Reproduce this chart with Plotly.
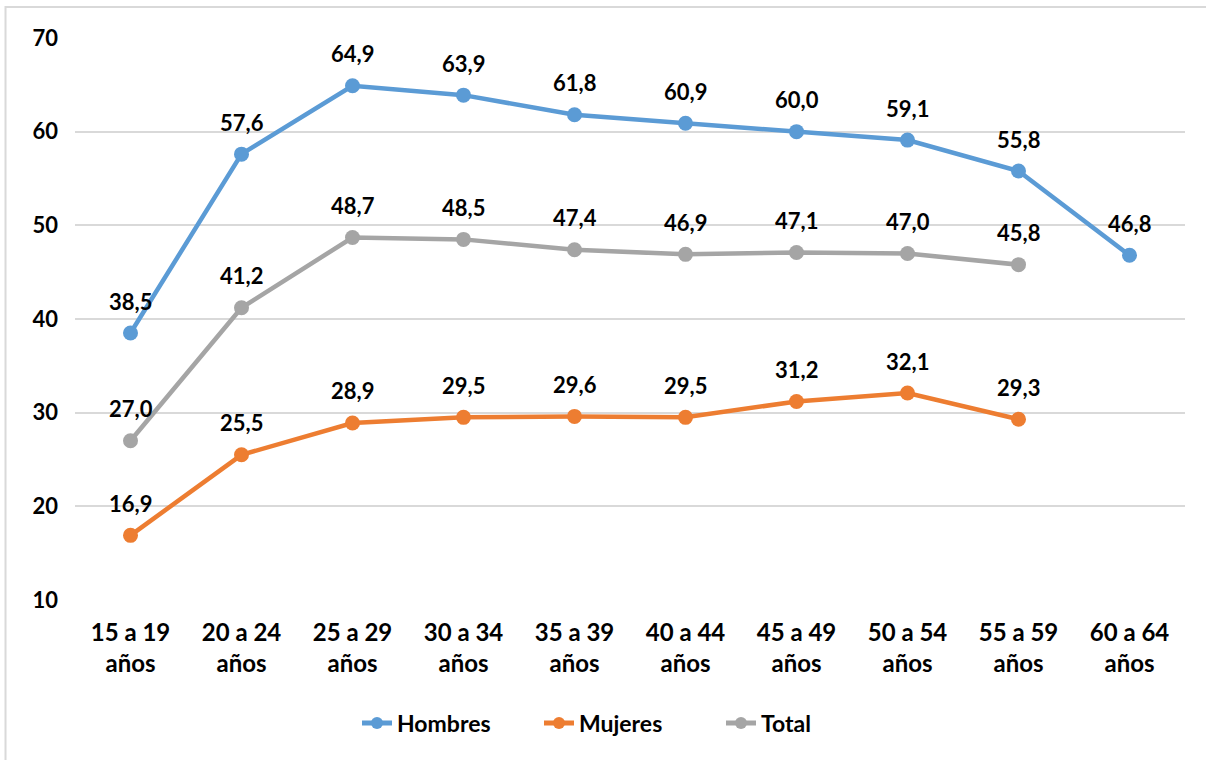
import plotly.graph_objects as go

# Age groups and rates (%) by sex
categorias = ["15 a 19<br>años", "20 a 24<br>años", "25 a 29<br>años", "30 a 34<br>años",
              "35 a 39<br>años", "40 a 44<br>años", "45 a 49<br>años", "50 a 54<br>años",
              "55 a 59<br>años", "60 a 64<br>años"]
hombres = [38.5, 57.6, 64.9, 63.9, 61.8, 60.9, 60.0, 59.1, 55.8, 46.8]
mujeres = [16.9, 25.5, 28.9, 29.5, 29.6, 29.5, 31.2, 32.1, 29.3, None]
total = [27.0, 41.2, 48.7, 48.5, 47.4, 46.9, 47.1, 47.0, 45.8, None]
y_ticks = [10, 20, 30, 40, 50, 60, 70]

series = [
    ("Hombres", hombres, "#5B9BD5"),
    ("Mujeres", mujeres, "#ED7D31"),
    ("Total", total, "#A5A5A5"),
]

FONT = "Lato"
fig = go.Figure()
annotations = []
for name, vals, color in series:
    fig.add_trace(go.Scatter(
        x=categorias, y=vals, name=name, mode="lines+markers",
        line=dict(color=color, width=4.5),
        marker=dict(color=color, size=15),
        connectgaps=False,
    ))
    for cat, v in zip(categorias, vals):
        if v is None:
            continue
        annotations.append(dict(
            x=cat, y=v, xref="x", yref="y",
            text=f"{v:.1f}".replace(".", ","),
            showarrow=False, yshift=32,
            font=dict(family=FONT, size=22, color="#000000", weight="bold"),
        ))

fig.update_layout(
    width=1206, height=760,
    margin=dict(l=74.5, r=20.5, t=38, b=160),
    paper_bgcolor="white", plot_bgcolor="white",
    annotations=annotations,
    showlegend=True,
    legend=dict(
        orientation="h", x=0.5, xanchor="center", y=-0.219, yanchor="middle",
        font=dict(family=FONT, size=23, color="#000000", weight="bold"),
        itemsizing="constant", tracegroupgap=0,
        entrywidth=137, entrywidthmode="pixels",
    ),
    xaxis=dict(
        type="category", range=[-0.5, 9.5],
        showgrid=False, showline=False, zeroline=False,
        tickfont=dict(family=FONT, size=24, color="#000000", weight="bold"),
        ticks="", ticklabelstandoff=16,
    ),
    yaxis=dict(
        range=[10, 70], tickvals=y_ticks,
        showgrid=True, gridcolor="#D9D9D9", gridwidth=2,
        showline=False, zeroline=False,
        tickfont=dict(family=FONT, size=22, color="#000000", weight="bold"),
        ticks="", ticklabelstandoff=16,
    ),
    shapes=[dict(
        type="rect", xref="paper", yref="paper",
        x0=-0.0626, x1=1.3, y0=-0.5, y1=1.0552,
        line=dict(color="#D9D9D9", width=2), fillcolor="rgba(0,0,0,0)",
        layer="below",
    )],
)

fig.write_html("out.html")
